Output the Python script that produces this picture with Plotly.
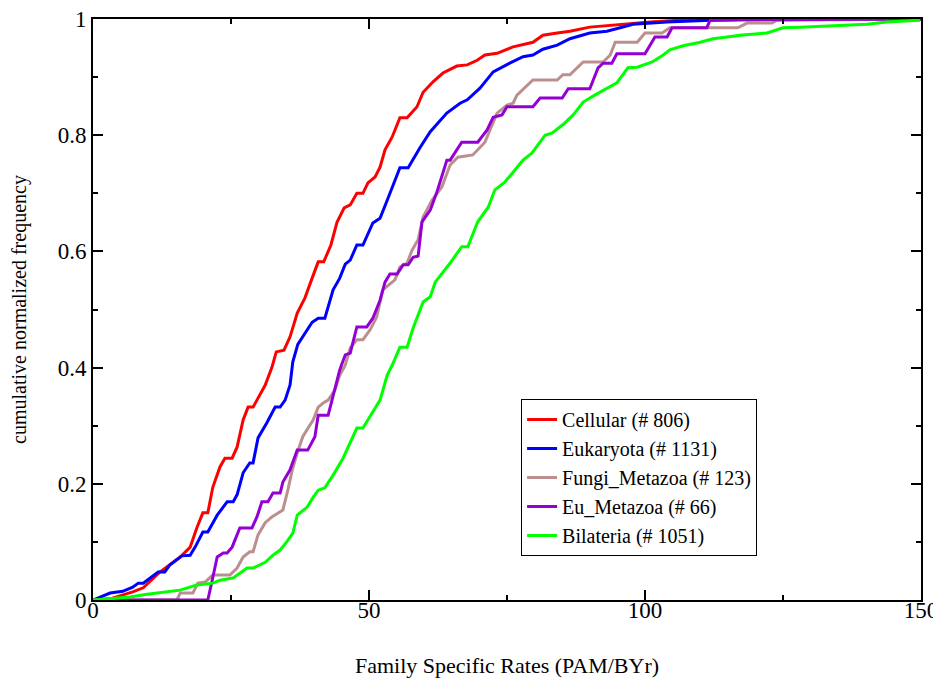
import plotly.graph_objects as go

# ---- data ----
cellular_x = [0, 3.1, 7.2, 9.1, 12.1, 13.9, 15.8, 17.6, 18.8, 19.9, 20.8, 21.7, 23.0, 23.9, 25.2, 26.1, 27.2, 28.1, 29.0, 29.7,
              31.2, 32.4, 33.2, 34.6, 35.7, 37.0, 38.4, 39.7, 40.8, 41.8, 43.1, 44.2, 45.5, 46.6, 47.8, 48.9, 49.8, 51.1,
              52.0, 52.9, 54.2, 55.6, 56.9, 58.7, 59.8, 61.6, 63.4, 65.9, 67.8, 69.6, 71.0, 73.2, 76.1, 79.7, 81.5, 84.1,
              86.4, 90.0, 94.9, 97.8, 100.9, 110.0, 150.0]
cellular_y = [0, 0.002, 0.014, 0.021, 0.048, 0.060, 0.074, 0.091, 0.124, 0.150, 0.150, 0.194, 0.229, 0.244, 0.244, 0.263,
              0.310, 0.332, 0.332, 0.344, 0.37, 0.40, 0.427, 0.43, 0.453, 0.494, 0.52, 0.554, 0.582, 0.582, 0.611, 0.65,
              0.675, 0.68, 0.70, 0.70, 0.718, 0.728, 0.745, 0.775, 0.797, 0.830, 0.830, 0.849, 0.874, 0.892, 0.907, 0.919,
              0.921, 0.929, 0.938, 0.941, 0.952, 0.960, 0.972, 0.976, 0.979, 0.986, 0.990, 0.993, 0.995, 1.0, 1.0]

eukaryota_x = [0, 3.1, 5.4, 7.2, 8.2, 9.1, 11.8, 13.0, 13.9, 16.1, 17.6, 18.5, 19.9, 20.8, 22.5, 24.3, 25.4, 26.1, 27.2,
               28.4, 29.0, 29.9, 31.5, 33.0, 33.9, 34.8, 35.7, 36.2, 37.1, 38.4, 39.7, 40.8, 42.0, 43.5, 44.7, 45.7, 46.6,
               47.8, 48.9, 50.7, 52.0, 53.3, 54.3, 55.6, 57.1, 59.2, 61.1, 64.1, 66.5, 67.8, 70.1, 72.5, 75.5, 77.9, 79.7,
               81.5, 84.1, 86.4, 90.0, 93.1, 95.5, 97.8, 104.0, 111.8, 122.0, 150.0]
eukaryota_y = [0, 0.012, 0.015, 0.022, 0.029, 0.029, 0.048, 0.048, 0.060, 0.076, 0.077, 0.091, 0.117, 0.117, 0.146, 0.169,
               0.169, 0.181, 0.219, 0.236, 0.236, 0.279, 0.305, 0.332, 0.332, 0.344, 0.37, 0.41, 0.44, 0.46, 0.478, 0.485,
               0.485, 0.534, 0.554, 0.578, 0.585, 0.611, 0.611, 0.649, 0.657, 0.688, 0.711, 0.744, 0.744, 0.778, 0.806,
               0.838, 0.855, 0.861, 0.881, 0.909, 0.924, 0.935, 0.938, 0.948, 0.955, 0.966, 0.976, 0.979, 0.985, 0.991,
               0.995, 0.998, 1.0, 1.0]

fungi_x = [0, 15.2, 15.8, 18.1, 19.0, 20.3, 21.7, 24.8, 26.1, 27.2, 28.4, 29.0, 29.9, 31.2, 32.4, 33.5, 34.4, 35.3, 36.1,
           37.0, 38.0, 39.9, 40.8, 41.7, 42.6, 43.8, 44.7, 45.7, 46.6, 47.8, 48.9, 50.2, 51.4, 52.5, 53.3, 54.7, 55.6,
           56.9, 57.8, 58.9, 59.8, 61.4, 63.2, 64.7, 66.1, 68.8, 71.0, 73.2, 75.0, 76.1, 76.8, 79.7, 84.1, 85.1, 86.4,
           88.8, 92.4, 93.7, 94.6, 98.6, 100.0, 103.1, 104.5, 116.8, 118.5, 123.0, 123.9, 150.0]
fungi_y = [0, 0, 0.012, 0.012, 0.029, 0.031, 0.043, 0.043, 0.055, 0.074, 0.083, 0.083, 0.112, 0.133, 0.143, 0.150, 0.155,
           0.189, 0.224, 0.253, 0.281, 0.310, 0.332, 0.339, 0.344, 0.361, 0.387, 0.404, 0.434, 0.448, 0.448, 0.465, 0.487,
           0.534, 0.540, 0.551, 0.573, 0.580, 0.602, 0.620, 0.659, 0.688, 0.711, 0.749, 0.762, 0.766, 0.788, 0.838, 0.852,
           0.855, 0.869, 0.895, 0.895, 0.904, 0.904, 0.926, 0.926, 0.938, 0.960, 0.960, 0.976, 0.976, 0.985, 0.985, 0.993,
           0.993, 0.998, 1.0]

eumetazoa_x = [0, 20.8, 21.6, 22.5, 23.6, 24.3, 25.2, 26.6, 28.8, 29.7, 30.6, 31.7, 32.6, 33.9, 34.4, 35.7, 37.0, 38.9,
               40.2, 40.8, 42.6, 43.3, 44.0, 44.7, 45.7, 46.6, 47.8, 49.6, 50.7, 52.0, 52.9, 53.8, 55.1, 56.2, 57.1, 58.0,
               58.9, 59.6, 61.1, 62.3, 64.1, 64.7, 66.8, 69.7, 71.4, 72.5, 74.1, 75.0, 79.7, 81.0, 85.0, 86.1, 90.0, 91.5,
               92.4, 94.0, 94.9, 100.0, 101.8, 104.0, 104.9, 111.2, 111.8, 150.0]
eumetazoa_y = [0, 0, 0.034, 0.074, 0.081, 0.081, 0.091, 0.124, 0.124, 0.143, 0.169, 0.169, 0.184, 0.184, 0.203, 0.224,
               0.258, 0.258, 0.281, 0.318, 0.318, 0.344, 0.370, 0.396, 0.422, 0.425, 0.470, 0.470, 0.485, 0.516, 0.547,
               0.561, 0.561, 0.577, 0.577, 0.590, 0.592, 0.651, 0.671, 0.702, 0.757, 0.757, 0.788, 0.788, 0.809, 0.831,
               0.835, 0.849, 0.849, 0.864, 0.864, 0.880, 0.880, 0.916, 0.924, 0.924, 0.940, 0.940, 0.969, 0.969, 0.985,
               0.985, 0.998, 1.0]

bilateria_x = [0, 6.7, 9.8, 11.6, 13.4, 15.8, 18.8, 21.7, 23.0, 25.4, 26.6, 27.9, 29.0, 31.2, 32.6, 33.9, 35.1, 36.2, 37.0,
               38.8, 39.9, 40.8, 42.0, 43.5, 45.3, 46.6, 47.8, 48.9, 52.0, 53.3, 54.2, 55.6, 56.9, 58.0, 59.8, 61.1, 62.0,
               64.7, 66.8, 67.9, 69.7, 71.6, 72.8, 74.6, 76.1, 77.9, 79.5, 81.9, 83.2, 85.1, 87.0, 88.8, 90.9, 93.7, 94.9,
               96.9, 98.6, 101.3, 103.3, 104.5, 106.9, 110.0, 112.3, 114.9, 117.2, 122.1, 123.2, 125.0, 128.1, 134.1,
               140.2, 143.8, 147.5, 149.8]
bilateria_y = [0, 0.005, 0.010, 0.012, 0.014, 0.017, 0.026, 0.029, 0.034, 0.038, 0.046, 0.055, 0.055, 0.065, 0.077, 0.086,
               0.100, 0.115, 0.146, 0.160, 0.177, 0.189, 0.193, 0.215, 0.244, 0.270, 0.296, 0.296, 0.344, 0.387, 0.404,
               0.435, 0.435, 0.468, 0.513, 0.522, 0.547, 0.580, 0.608, 0.608, 0.651, 0.676, 0.706, 0.719, 0.737, 0.757,
               0.769, 0.800, 0.804, 0.818, 0.835, 0.857, 0.869, 0.883, 0.890, 0.916, 0.917, 0.926, 0.938, 0.947, 0.954,
               0.960, 0.966, 0.969, 0.972, 0.976, 0.979, 0.985, 0.986, 0.988, 0.991, 0.995, 0.997, 0.998]

series_names = ["Cellular (# 806)", "Eukaryota (# 1131)", "Fungi_Metazoa (# 123)", "Eu_Metazoa (# 66)",
                "Bilateria (# 1051)"]
series_x = [cellular_x, eukaryota_x, fungi_x, eumetazoa_x, bilateria_x]
series_y = [cellular_y, eukaryota_y, fungi_y, eumetazoa_y, bilateria_y]
series_colors = ["#ff0000", "#0000ff", "#bc8f8f", "#9400d3", "#00ff00"]

x_ticks = [0, 50, 100, 150]
y_ticks = [0, 0.2, 0.4, 0.6, 0.8, 1]

fig = go.Figure()
for i, (name, xs, ys, col) in enumerate(zip(series_names, series_x, series_y, series_colors)):
    fig.add_trace(go.Scatter(x=xs, y=ys, mode="lines", name=name, legendgroup=f"g{i}",
                             line=dict(color=col, width=3)))

font_family = "Liberation Serif, Times New Roman, serif"
axis_common = dict(showline=True, linecolor="black", linewidth=2, mirror="ticks",
                   ticks="inside", ticklen=10, tickwidth=1.5, tickcolor="black",
                   showgrid=False, zeroline=False, automargin=False,
                   ticklabeloverflow="allow",
                   tickfont=dict(family=font_family, size=23, color="black"))

# The page body has an 8px default margin, so the figure is sized to fit the 941x681 window.
fig.update_layout(
    width=933, height=673,
    paper_bgcolor="white", plot_bgcolor="white",
    margin=dict(l=85, r=20, t=11, b=81),
    font=dict(family=font_family, color="black"),
    xaxis=dict(range=[0, 150], tickvals=x_ticks, ticklabelstandoff=-12,
               minor=dict(tickvals=[25, 75, 125], ticks="inside", ticklen=5, tickcolor="black", tickwidth=1.5),
               title=dict(text="Family Specific Rates (PAM/BYr)", font=dict(family=font_family, size=22),
                          standoff=36),
               **axis_common),
    yaxis=dict(range=[0, 1], tickvals=y_ticks,
               minor=dict(tickvals=[0.1, 0.3, 0.5, 0.7, 0.9], ticks="inside", ticklen=5, tickcolor="black",
                          tickwidth=1.5),
               title=dict(text="cumulative normalized frequency", font=dict(family=font_family, size=20),
                          standoff=27),
               **axis_common),
    legend=dict(x=0.517, y=0.346, xanchor="left", yanchor="top",
                bordercolor="black", borderwidth=1, bgcolor="white",
                font=dict(family=font_family, size=20, color="black"),
                tracegroupgap=0, itemwidth=30),
    showlegend=True,
)

fig.write_html("out.html")
